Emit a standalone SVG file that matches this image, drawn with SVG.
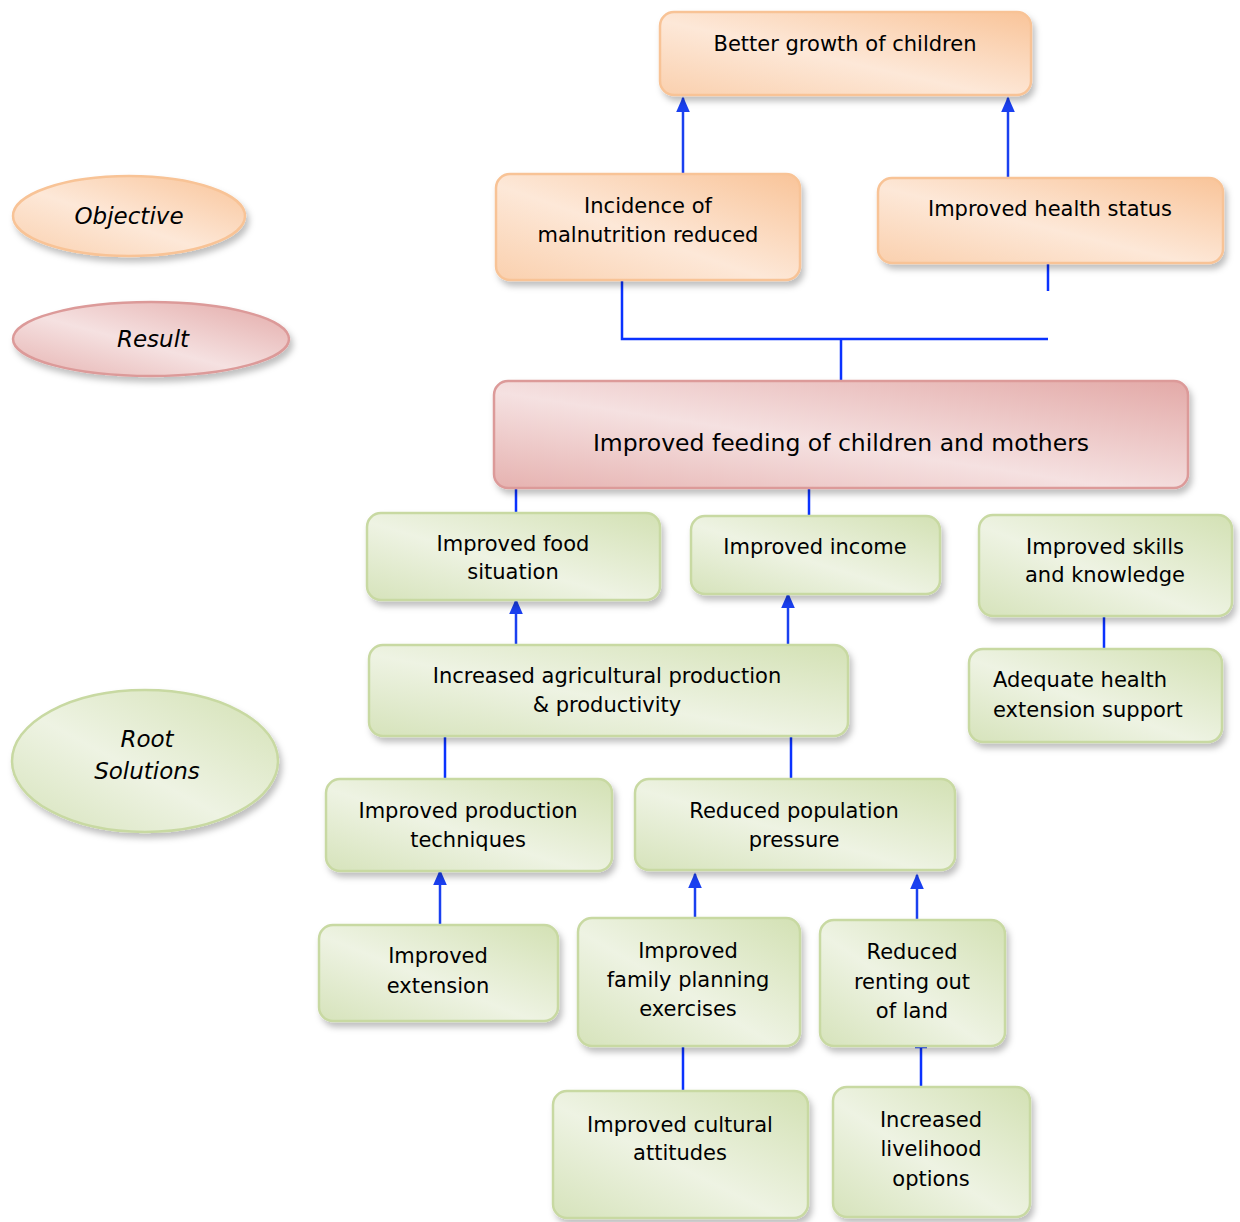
<svg xmlns="http://www.w3.org/2000/svg" width="1240" height="1222" viewBox="0 0 1240 1222">
<defs>
<linearGradient id="gO" x1="1" y1="0" x2="0" y2="1">
<stop offset="0" stop-color="#f9c499"/>
<stop offset="0.55" stop-color="#fde8d8"/>
<stop offset="1" stop-color="#fad0ae"/>
</linearGradient>
<linearGradient id="gP" x1="1" y1="0" x2="0" y2="1">
<stop offset="0" stop-color="#e3a9a7"/>
<stop offset="0.55" stop-color="#f5e1e1"/>
<stop offset="1" stop-color="#e6b2b0"/>
</linearGradient>
<linearGradient id="gG" x1="1" y1="0" x2="0" y2="1">
<stop offset="0" stop-color="#d3e1b4"/>
<stop offset="0.55" stop-color="#eef3e3"/>
<stop offset="1" stop-color="#d6e3bb"/>
</linearGradient>
<filter id="sh" x="-10%" y="-10%" width="125%" height="135%">
<feDropShadow dx="3" dy="5" stdDeviation="3" flood-color="#000" flood-opacity="0.25"/>
</filter>
<marker id="ah" viewBox="0 0 10 10" refX="9" refY="5" markerWidth="6.4" markerHeight="5.6" markerUnits="strokeWidth" orient="auto" preserveAspectRatio="none">
<path d="M0,0 L10,5 L0,10 z" fill="#1a40f0"/>
</marker>
</defs>
<style>
.o{fill:url(#gO);stroke:#f8c396;stroke-width:2.5;filter:url(#sh)}
.p{fill:url(#gP);stroke:#dc9a99;stroke-width:2.5;filter:url(#sh)}
.g{fill:url(#gG);stroke:#c8d9a2;stroke-width:2.5;filter:url(#sh)}
text{font-family:"DejaVu Sans","Liberation Sans",sans-serif;font-size:21px;fill:#000;text-anchor:middle}
.i{font-style:italic;font-size:23px}
.big{font-size:23.5px}
.l{text-anchor:start}
.c{fill:none;stroke:#0a32ff;stroke-width:2.5}
.a{fill:none;stroke:#1a40f0;stroke-width:2.5;marker-end:url(#ah)}
</style>
<g id="connectors">
<path class="a" d="M683,174 V98"/>
<path class="a" d="M1008,178 V98"/>
<path class="c" d="M622,281 V339 H1048"/>
<path class="c" d="M1048,264 V291"/>
<path class="c" d="M841,339 V381"/>
<path class="c" d="M516,489 V513"/>
<path class="c" d="M809,489 V516"/>
<path class="a" d="M516,645 V600"/>
<path class="a" d="M788,645 V594"/>
<path class="c" d="M1104,617 V649"/>
<path class="c" d="M445,737 V779"/>
<path class="c" d="M791,737 V779"/>
<path class="a" d="M440,925 V871"/>
<path class="a" d="M695,918 V874"/>
<path class="a" d="M917,920 V875"/>
<path class="c" d="M683,1047 V1091"/>
<path class="c" d="M921,1047 V1087 M915,1047 H927"/>
</g>
<g id="legend-objective"><ellipse class="o" cx="129" cy="216" rx="116" ry="40"/><text class="i" x="129" y="224">Objective</text></g>
<g id="legend-result"><ellipse class="p" cx="151" cy="339" rx="138" ry="37"/><text class="i" x="153" y="347">Result</text></g>
<g id="legend-root"><ellipse class="g" cx="145" cy="761" rx="133" ry="71"/><text class="i" x="147" y="747">Root</text><text class="i" x="147" y="779">Solutions</text></g>
<g id="n-better-growth"><rect class="o" x="660" y="12" width="371" height="83" rx="14"/><text x="845" y="51">Better growth of children</text></g>
<g id="n-incidence"><rect class="o" x="496" y="174" width="304" height="106" rx="14"/><text x="648" y="213">Incidence of</text><text x="648" y="242">malnutrition reduced</text></g>
<g id="n-health-status"><rect class="o" x="878" y="178" width="345" height="85" rx="14"/><text x="1050" y="216">Improved health status</text></g>
<g id="n-feeding"><rect class="p" x="494" y="381" width="694" height="107" rx="14"/><text class="big" x="841" y="451">Improved feeding of children and mothers</text></g>
<g id="n-food"><rect class="g" x="367" y="513" width="293" height="87" rx="14"/><text x="513" y="551">Improved food</text><text x="513" y="579">situation</text></g>
<g id="n-income"><rect class="g" x="691" y="516" width="249" height="78" rx="14"/><text x="815" y="554">Improved income</text></g>
<g id="n-skills"><rect class="g" x="979" y="515" width="253" height="101" rx="14"/><text x="1105" y="554">Improved skills</text><text x="1105" y="582">and knowledge</text></g>
<g id="n-agri"><rect class="g" x="369" y="645" width="479" height="91" rx="14"/><text x="607" y="683">Increased agricultural production</text><text x="607" y="712">&amp; productivity</text></g>
<g id="n-health-ext"><rect class="g" x="969" y="649" width="253" height="93" rx="14"/><text class="l" x="993" y="687">Adequate health</text><text class="l" x="993" y="717">extension support</text></g>
<g id="n-prod-tech"><rect class="g" x="326" y="779" width="286" height="92" rx="14"/><text x="468" y="818">Improved production</text><text x="468" y="847">techniques</text></g>
<g id="n-population"><rect class="g" x="635" y="779" width="320" height="91" rx="14"/><text x="794" y="818">Reduced population</text><text x="794" y="847">pressure</text></g>
<g id="n-extension"><rect class="g" x="319" y="925" width="239" height="96" rx="14"/><text x="438" y="963">Improved</text><text x="438" y="993">extension</text></g>
<g id="n-family"><rect class="g" x="578" y="918" width="222" height="128" rx="14"/><text x="688" y="958">Improved</text><text x="688" y="987">family planning</text><text x="688" y="1016">exercises</text></g>
<g id="n-renting"><rect class="g" x="820" y="920" width="185" height="126" rx="14"/><text x="912" y="959">Reduced</text><text x="912" y="989">renting out</text><text x="912" y="1018">of land</text></g>
<g id="n-cultural"><rect class="g" x="553" y="1091" width="255" height="127" rx="14"/><text x="680" y="1132">Improved cultural</text><text x="680" y="1160">attitudes</text></g>
<g id="n-livelihood"><rect class="g" x="833" y="1087" width="197" height="130" rx="14"/><text x="931" y="1127">Increased</text><text x="931" y="1156">livelihood</text><text x="931" y="1186">options</text></g>
</svg>
